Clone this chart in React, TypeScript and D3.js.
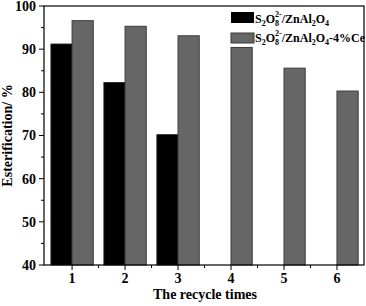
import React from "react";
import * as d3 from "d3";

const categories = [1, 2, 3, 4, 5, 6];
const seriesA = [91.2, 82.3, 70.2, null, null, null];
const seriesB = [96.6, 95.3, 93.1, 90.4, 85.6, 80.3];
const yTicks = [40, 50, 60, 70, 80, 90, 100];
const yMinor = [45, 55, 65, 75, 85, 95];
const xMinor = [1.5, 2.5, 3.5, 4.5, 5.5];

const W = 366, H = 306;
const L = 44, R = 364, T = 6, B = 265;
const font = "'Liberation Serif', 'Times New Roman', serif";

export default function App() {
  const x = d3.scaleLinear().domain([0.47, 6.51]).range([L, R]);
  const y = d3.scaleLinear().domain([40, 100]).range([B, T]);
  const bw = x(1.4) - x(1);
  return (
    <svg width={W} height={H} style={{ position: "absolute", left: 0, top: 0 }} fontFamily={font} fontWeight="bold">
      <rect x={0} y={0} width={W} height={H} fill="#fff" />
      {categories.map((c, i) => (
        <g key={c}>
          {seriesA[i] != null && (
            <rect x={x(c) - bw} y={y(seriesA[i] as number)} width={bw} height={B - y(seriesA[i] as number)} fill="#000" stroke="#222" strokeWidth={0.8} />
          )}
          <rect x={x(c)} y={y(seriesB[i])} width={bw} height={B - y(seriesB[i])} fill="#666" stroke="#3a3a3a" strokeWidth={1} />
        </g>
      ))}
      <rect x={L} y={T} width={R - L} height={B - T} fill="none" stroke="#000" strokeWidth={1.2} />
      {yTicks.map(t => (
        <g key={t}>
          <line x1={L - 5} x2={L} y1={y(t)} y2={y(t)} stroke="#000" strokeWidth={1} />
          <text x={L - 8} y={y(t)} dy="0.35em" textAnchor="end" fontSize={14}>{t}</text>
        </g>
      ))}
      {yMinor.map(t => (
        <line key={t} x1={L - 3} x2={L} y1={y(t)} y2={y(t)} stroke="#000" strokeWidth={1} />
      ))}
      {categories.map(c => (
        <g key={c}>
          <line x1={x(c)} x2={x(c)} y1={B} y2={B + 5} stroke="#000" strokeWidth={1} />
          <text x={x(c)} y={B + 18} textAnchor="middle" fontSize={14}>{c}</text>
        </g>
      ))}
      {xMinor.map(c => (
        <line key={c} x1={x(c)} x2={x(c)} y1={B} y2={B + 3} stroke="#000" strokeWidth={1} />
      ))}
      <text x={205} y={299} textAnchor="middle" fontSize={14}>The recycle times</text>
      <text transform={`translate(12, ${(T + B) / 2}) rotate(-90)`} textAnchor="middle" fontSize={14}>Esterification/ %</text>
      <rect x={231} y={12} width={23} height={11} fill="#000" />
      <text x={255} y={23} fontSize={12}>
        S<tspan fontSize={8} dy={3}>2</tspan><tspan dy={-3}>O</tspan><tspan fontSize={8} dy={3}>8</tspan><tspan fontSize={8} dy={-9} dx={-4}>2-</tspan><tspan dy={6}>/ZnAl</tspan><tspan fontSize={8} dy={3}>2</tspan><tspan dy={-3}>O</tspan><tspan fontSize={8} dy={3}>4</tspan>
      </text>
      <rect x={231} y={33} width={23} height={10} fill="#666" stroke="#3a3a3a" strokeWidth={1} />
      <text x={255} y={42} fontSize={12}>
        S<tspan fontSize={8} dy={3}>2</tspan><tspan dy={-3}>O</tspan><tspan fontSize={8} dy={3}>8</tspan><tspan fontSize={8} dy={-9} dx={-4}>2-</tspan><tspan dy={6}>/ZnAl</tspan><tspan fontSize={8} dy={3}>2</tspan><tspan dy={-3}>O</tspan><tspan fontSize={8} dy={3}>4</tspan><tspan dy={-3}>-4%Ce</tspan>
      </text>
    </svg>
  );
}
